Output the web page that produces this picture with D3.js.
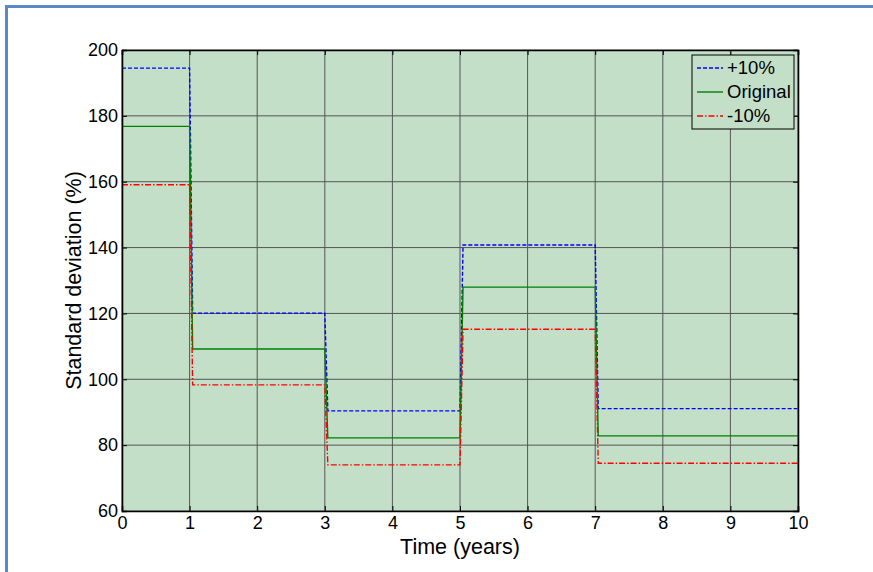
<!DOCTYPE html>
<html>
<head>
<meta charset="utf-8">
<script src="https://cdn.jsdelivr.net/npm/d3@7"></script>
<style>
body { margin: 0; background: #fff; }
text { font-family: "Liberation Sans", Arial, sans-serif; }
</style>
</head>
<body>
<div id="chart"></div>
<script>
// step times (years) - each jump takes a short moment
var times = [0, 1, 1.045, 3, 3.045, 5, 5.045, 7, 7.045, 10];
var plus10 = [194.5, 194.5, 120.1, 120.1, 90.4, 90.4, 140.8, 140.8, 91.1, 91.1];
var original = [176.8, 176.8, 109.2, 109.2, 82.2, 82.2, 128.0, 128.0, 82.8, 82.8];
var minus10 = [159.1, 159.1, 98.3, 98.3, 74.0, 74.0, 115.2, 115.2, 74.5, 74.5];
var xTicks = [0, 1, 2, 3, 4, 5, 6, 7, 8, 9, 10];
var yTicks = [60, 80, 100, 120, 140, 160, 180, 200];
var seriesNames = ["+10%", "Original", "-10%"];

var svgWidth = 873;
var svgHeight = 572;
var margin = { top: 50, right: 75, bottom: 61, left: 122 };
var width = svgWidth - margin.left - margin.right;
var height = svgHeight - margin.top - margin.bottom;

var svg = d3.select("#chart")
  .append("svg")
  .attr("width", svgWidth)
  .attr("height", svgHeight);

// blue frame of the figure (only top and left are visible)
svg.append("path")
  .attr("d", "M6.5," + svgHeight + "V6.5H" + svgWidth)
  .attr("fill", "none")
  .attr("stroke", "#5a88c8")
  .attr("stroke-width", 3);

var chartGroup = svg.append("g")
  .attr("transform", `translate(${margin.left}, ${margin.top})`);

var x = d3.scaleLinear().domain([0, 10]).range([0, width]);
var y = d3.scaleLinear().domain([60, 200]).range([height, 0]);

chartGroup.append("rect")
  .attr("width", width)
  .attr("height", height)
  .attr("fill", "#c4dfc8");

// grid
chartGroup.selectAll(".vgrid")
  .data(xTicks)
  .enter()
  .append("line")
  .attr("x1", d => x(d)).attr("x2", d => x(d))
  .attr("y1", 0).attr("y2", height)
  .attr("stroke", "#555")
  .attr("stroke-width", 1);

chartGroup.selectAll(".hgrid")
  .data(yTicks)
  .enter()
  .append("line")
  .attr("x1", 0).attr("x2", width)
  .attr("y1", d => y(d)).attr("y2", d => y(d))
  .attr("stroke", "#555")
  .attr("stroke-width", 1);

// lines
var data = [plus10, original, minus10];
var colors = ["#0000ff", "#008000", "#ff0000"];
var dashes = ["4,2", null, "6,2,1.5,2"];

var line = d3.line()
  .x((d, i) => x(times[i]))
  .y(d => y(d));

data.forEach(function(vals, k) {
  chartGroup.append("path")
    .datum(vals)
    .attr("d", line)
    .attr("fill", "none")
    .attr("stroke", colors[k])
    .attr("stroke-width", 1.4)
    .attr("stroke-dasharray", dashes[k]);
});

// axes with inward ticks
var bottomAxis = d3.axisBottom(x).tickValues(xTicks).tickSize(-5).tickPadding(5);
var leftAxis = d3.axisLeft(y).tickValues(yTicks).tickSize(-5).tickPadding(4);

var gx = chartGroup.append("g")
  .attr("transform", `translate(0, ${height})`)
  .call(bottomAxis);
var gy = chartGroup.append("g")
  .call(leftAxis);

chartGroup.append("g")
  .call(d3.axisTop(x).tickValues(xTicks).tickSize(-5).tickFormat(""));
chartGroup.append("g")
  .attr("transform", `translate(${width}, 0)`)
  .call(d3.axisRight(y).tickValues(yTicks).tickSize(-5).tickFormat(""));

chartGroup.selectAll(".domain").attr("stroke", "#000").attr("stroke-width", 1.6);
chartGroup.selectAll(".tick line").attr("stroke", "#000");
chartGroup.selectAll(".tick text")
  .attr("fill", "#000")
  .style("font-size", "18px")
  .style("font-family", "'Liberation Sans', Arial, sans-serif");

// axis labels
chartGroup.append("text")
  .attr("x", width / 2)
  .attr("y", height + 43)
  .attr("text-anchor", "middle")
  .style("font-size", "21.5px")
  .text("Time (years)");

chartGroup.append("text")
  .attr("transform", "rotate(-90)")
  .attr("x", -height / 2)
  .attr("y", -41)
  .attr("text-anchor", "middle")
  .style("font-size", "21.5px")
  .text("Standard deviation (%)");

// legend
var legend = chartGroup.append("g")
  .attr("transform", `translate(${width - 106}, 5)`);

legend.append("rect")
  .attr("width", 102)
  .attr("height", 74)
  .attr("fill", "#c4dfc8")
  .attr("stroke", "#000")
  .attr("stroke-width", 1);

seriesNames.forEach(function(name, k) {
  var ly = 13 + k * 24;
  legend.append("line")
    .attr("x1", 5).attr("x2", 31)
    .attr("y1", ly).attr("y2", ly)
    .attr("stroke", colors[k])
    .attr("stroke-width", 1.4)
    .attr("stroke-dasharray", dashes[k]);
  legend.append("text")
    .attr("x", 35)
    .attr("y", ly)
    .attr("dy", "0.35em")
    .style("font-size", "18.5px")
    .text(name);
});
</script>
</body>
</html>
